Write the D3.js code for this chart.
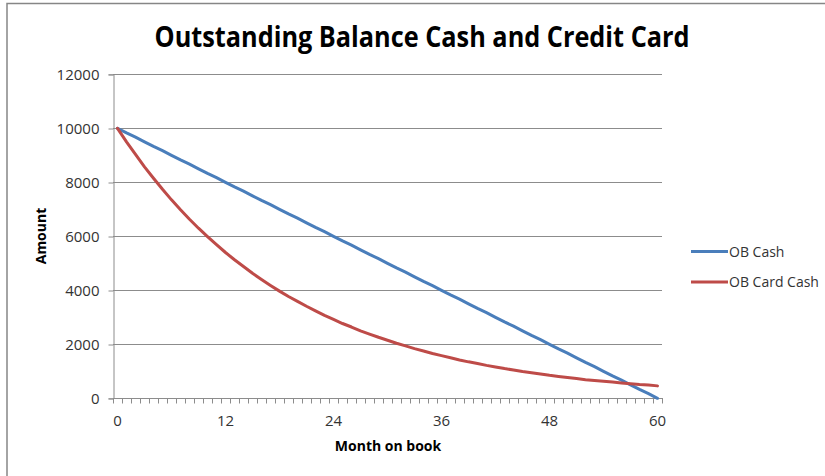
<!DOCTYPE html>
<html>
<head>
<meta charset="utf-8">
<script src="https://cdn.jsdelivr.net/npm/d3@7/dist/d3.min.js"></script>
<style>
  html, body { margin: 0; padding: 0; background: #fff; }
  svg { display: block; }
  text { font-family: "Open Sans", "Liberation Sans", sans-serif; }
</style>
</head>
<body>
<svg id="chart" width="825" height="476"></svg>
<script>
// Months on book, 0..60
const months = d3.range(0, 61);
const labelMonths = [0, 12, 24, 36, 48, 60];
const amountTicks = [0, 2000, 4000, 6000, 8000, 10000, 12000];

// Outstanding balance of the cash loan, by month
const obCash = [
  10000, 9830, 9670, 9500, 9330, 9170, 9000, 8830, 8670, 8500,
  8330, 8170, 8000, 7830, 7670, 7500, 7330, 7170, 7000, 6830,
  6670, 6500, 6330, 6170, 6000, 5830, 5670, 5500, 5330, 5170,
  5000, 4830, 4670, 4500, 4330, 4170, 4000, 3830, 3670, 3500,
  3330, 3170, 3000, 2830, 2670, 2500, 2330, 2170, 2000, 1830,
  1670, 1500, 1330, 1170, 1000, 830, 670, 500, 330, 170, 0
];

// Outstanding balance of the credit card, by month
const obCardCash = [
  10000, 9500, 9030, 8570, 8150, 7740, 7350, 6980, 6630, 6300,
  5990, 5690, 5400, 5130, 4880, 4630, 4400, 4180, 3970, 3770,
  3590, 3410, 3240, 3070, 2920, 2770, 2640, 2500, 2380, 2260,
  2150, 2040, 1940, 1840, 1750, 1660, 1580, 1500, 1420, 1350,
  1290, 1220, 1160, 1100, 1050, 990, 950, 900, 850, 810,
  770, 730, 690, 660, 630, 600, 570, 540, 510, 490, 460
];

const seriesNames = ["OB Cash", "OB Card Cash"];
const seriesColors = ["#4A7EBB", "#BE4B48"];
const seriesValues = [obCash, obCardCash];

const svg = d3.select("#chart");

// chart frame
svg.append("rect")
  .attr("x", 7).attr("y", 3.5)
  .attr("width", 900).attr("height", 600)
  .attr("fill", "none").attr("stroke", "#868686").attr("stroke-width", 1.5);

const plot = { left: 113, right: 662, top: 74.3, bottom: 398.3 };

const x = d3.scaleBand().domain(months).range([plot.left, plot.right]);
const xc = d => x(d) + x.bandwidth() / 2;
const y = d3.scaleLinear().domain([0, 12000]).range([plot.bottom, plot.top]);

// horizontal gridlines
svg.append("g")
  .selectAll("line")
  .data(amountTicks.filter(d => d > 0))
  .join("line")
  .attr("x1", plot.left).attr("x2", plot.right)
  .attr("y1", d => Math.round(y(d)) + 0.5).attr("y2", d => Math.round(y(d)) + 0.5)
  .attr("stroke", "#8c8c8c").attr("stroke-width", 1);

// y axis
const yAxis = svg.append("g")
  .attr("transform", `translate(${plot.left + 0.5},0)`)
  .call(d3.axisLeft(y).tickValues(amountTicks).tickSize(5).tickPadding(9).tickFormat(d3.format("d")));
yAxis.select(".domain").attr("stroke", "#8c8c8c");
yAxis.selectAll(".tick line").attr("stroke", "#8c8c8c")
  .attr("transform", d => `translate(0,${Math.round(y(d)) + 0.5 - y(d)})`);
yAxis.selectAll(".tick text")
  .attr("fill", "#333").style("font-size", "15px").attr("font-family", null);

// x axis: line, a tick at every month boundary, labels every 12 months
const xg = svg.append("g");
xg.append("line")
  .attr("x1", plot.left).attr("x2", plot.right + 1)
  .attr("y1", Math.round(plot.bottom) + 0.5).attr("y2", Math.round(plot.bottom) + 0.5)
  .attr("stroke", "#8c8c8c");
const bounds = months.map(d => x(d)).concat([x(months[months.length - 1]) + x.bandwidth()]);
xg.selectAll("line.minor")
  .data(bounds)
  .join("line").attr("class", "minor")
  .attr("x1", d => Math.round(d) + 0.5).attr("x2", d => Math.round(d) + 0.5)
  .attr("y1", Math.round(plot.bottom) + 0.5).attr("y2", Math.round(plot.bottom) + 5.5)
  .attr("stroke", "#8c8c8c");
xg.selectAll("text.xl")
  .data(labelMonths)
  .join("text").attr("class", "xl")
  .attr("x", d => xc(d)).attr("y", 426)
  .attr("text-anchor", "middle")
  .attr("fill", "#333").style("font-size", "15px")
  .text(d => d);

// series lines
const line = d3.line().x((v, i) => xc(months[i])).y(v => y(v));
svg.append("g")
  .selectAll("path")
  .data(seriesValues)
  .join("path")
  .attr("d", line)
  .attr("fill", "none")
  .attr("stroke", (d, i) => seriesColors[i])
  .attr("stroke-width", 3)
  .attr("stroke-linejoin", "round")
  .attr("stroke-linecap", "round");

// fit a text element to a given width
function fit(sel, w) {
  const len = sel.node().getComputedTextLength();
  if (len > w) sel.attr("textLength", w).attr("lengthAdjust", "spacingAndGlyphs");
}

// title
const title = svg.append("text")
  .attr("x", 422).attr("y", 47)
  .attr("text-anchor", "middle")
  .style("font-size", "29px").style("font-weight", "bold")
  .attr("fill", "#000")
  .text("Outstanding Balance Cash and Credit Card");
fit(title, 535);

// axis titles
const xt = svg.append("text")
  .attr("x", 388).attr("y", 451)
  .attr("text-anchor", "middle")
  .style("font-size", "14px").style("font-weight", "bold")
  .attr("fill", "#000")
  .text("Month on book");
fit(xt, 108);

const yt = svg.append("text")
  .attr("transform", "translate(46,236) rotate(-90)")
  .attr("text-anchor", "middle")
  .style("font-size", "14px").style("font-weight", "bold")
  .attr("fill", "#000")
  .text("Amount");
fit(yt, 60);

// legend
const legend = svg.append("g")
  .selectAll("g")
  .data(seriesNames)
  .join("g")
  .attr("transform", (d, i) => `translate(691,${251.5 + i * 30.5})`);
legend.append("line")
  .attr("x1", 0).attr("x2", 37)
  .attr("stroke", (d, i) => seriesColors[i])
  .attr("stroke-width", 3);
legend.append("text")
  .attr("x", 38).attr("y", 5)
  .style("font-size", "14px")
  .attr("fill", "#333")
  .text(d => d)
  .each(function(d, i) { fit(d3.select(this), i === 0 ? 57 : 92); });
</script>
</body>
</html>
